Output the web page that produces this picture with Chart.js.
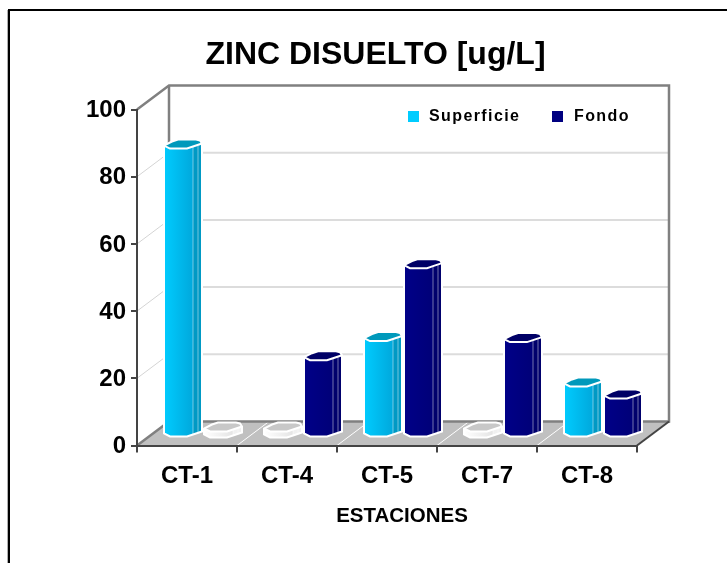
<!DOCTYPE html>
<html>
<head>
<meta charset="utf-8">
<title>Zinc disuelto</title>
<script src="https://cdn.jsdelivr.net/npm/chart.js@4/dist/chart.umd.min.js"></script>
<style>
  body { margin: 0; background: #fff; }
  canvas { display: block; }
</style>
</head>
<body>
<canvas id="grafico" width="727" height="563"></canvas>
<script>
const estaciones = ["CT-1", "CT-4", "CT-5", "CT-7", "CT-8"];
const superficie = [86, 0, 28.7, 0, 15.2];
const fondo = [0, 23, 50.4, 28.4, 11.6];
const tituloEjeX = "ESTACIONES";

const FUENTE = "'Liberation Sans', Arial, sans-serif";

// colores de cada cara: frente (izq, der), lado, tapa
const caras = {
  Superficie: { frente: ["#00ccff", "#00a8dc"], lado: "#0099c4", tapa: "#0099bb" },
  Fondo: { frente: ["#000088", "#000078"], lado: "#00006c", tapa: "#000066" },
  cero: { frente: ["#ffffff", "#e4e4e4"], lado: "#f0f0f0", tapa: "#c8c8c8" },
};

// profundidad de las paredes y desplazamiento de las barras dentro de ella
const prof = { dx: 32, dy: -24 };
const desp = { dx: -3, dy: -8 };

function poligono(ctx, puntos) {
  ctx.beginPath();
  puntos.forEach((p, i) => (i ? ctx.lineTo(p[0], p[1]) : ctx.moveTo(p[0], p[1])));
  ctx.closePath();
}

function prisma(ctx, barra, color) {
  const x0 = barra.x + desp.dx;
  const base = barra.base + desp.dy;
  // las barras en cero se ven como un disco plano
  const arriba = Math.min(barra.y + desp.dy, base - 6);
  const pie = (y) => [[x0, y - 3], [x0 + 6, y], [x0 + 23, y], [x0 + 29, y - 2], [x0 + 38, y - 5]];

  const abajo = pie(base);
  const alto = pie(arriba);
  const fondoTapa = [[x0 + 36, arriba - 8], [x0 + 32, arriba - 9], [x0 + 14, arriba - 9], [x0 + 8, arriba - 7]];

  const g = ctx.createLinearGradient(x0, 0, x0 + 29, 0);
  g.addColorStop(0, color.frente[0]);
  g.addColorStop(1, color.frente[1]);
  ctx.fillStyle = g;
  poligono(ctx, [alto[0], alto[1], alto[2], alto[3], abajo[3], abajo[2], abajo[1], abajo[0]]);
  ctx.fill();

  ctx.fillStyle = color.lado;
  poligono(ctx, [alto[3], alto[4], abajo[4], abajo[3]]);
  ctx.fill();

  ctx.fillStyle = color.tapa;
  poligono(ctx, [...alto, ...fondoTapa]);
  ctx.fill();

  // aristas verticales del lado
  ctx.strokeStyle = "rgba(255,255,255,0.45)";
  ctx.lineWidth = 1;
  ctx.beginPath();
  ctx.moveTo(alto[3][0], alto[3][1]);
  ctx.lineTo(abajo[3][0], abajo[3][1]);
  ctx.moveTo(x0 + 34, arriba - 3);
  ctx.lineTo(x0 + 34, base - 3);
  ctx.stroke();

  ctx.strokeStyle = "#ffffff";
  ctx.lineWidth = 2;
  poligono(ctx, [alto[0], ...abajo, alto[4], ...fondoTapa]);
  ctx.stroke();
  ctx.beginPath();
  alto.forEach((p, i) => (i ? ctx.lineTo(p[0], p[1]) : ctx.moveTo(p[0], p[1])));
  ctx.stroke();
}

const decorado3D = {
  id: "decorado3D",
  beforeDraw(chart) {
    const { ctx, chartArea: a, scales } = chart;
    const der = a.right, izq = a.left, inf = a.bottom, sup = a.top;
    const dx = prof.dx, dy = prof.dy;

    // el eje y es angosto para centrar el titulo; sin esto recorta sus etiquetas
    scales.y.left = 0;

    ctx.save();
    // marco
    ctx.fillStyle = "#b0b0b0";
    ctx.fillRect(7, 10, 1, chart.height - 10);
    ctx.fillStyle = "#000000";
    ctx.fillRect(8, 9, chart.width - 8, 2);
    ctx.fillRect(8, 9, 2, chart.height - 9);

    // lineas de pared
    scales.y.ticks.forEach((t) => {
      const y = scales.y.getPixelForValue(t.value);
      if (t.value === 0 || t.value === 100) return;
      ctx.strokeStyle = "#d4d4d4";
      ctx.lineWidth = 1;
      ctx.beginPath();
      ctx.moveTo(izq, y);
      ctx.lineTo(izq + dx, y + dy);
      ctx.stroke();
      ctx.strokeStyle = "#dcdcdc";
      ctx.lineWidth = 2;
      ctx.beginPath();
      ctx.moveTo(izq + dx, y + dy);
      ctx.lineTo(der + dx, y + dy);
      ctx.stroke();
    });

    // piso
    ctx.fillStyle = "#c0c0c0";
    poligono(ctx, [[izq, inf], [der, inf], [der + dx, inf + dy], [izq + dx, inf + dy]]);
    ctx.fill();
    ctx.strokeStyle = "#ffffff";
    ctx.lineWidth = 1;
    estaciones.forEach((e, i) => {
      if (i === 0) return;
      const x = (scales.x.getPixelForTick(i - 1) + scales.x.getPixelForTick(i)) / 2;
      ctx.beginPath();
      ctx.moveTo(x, inf);
      ctx.lineTo(x + dx, inf + dy);
      ctx.stroke();
    });

    // bordes de las paredes
    ctx.strokeStyle = "#808080";
    ctx.lineWidth = 2.5;
    ctx.beginPath();
    ctx.moveTo(izq, sup);
    ctx.lineTo(izq + dx, sup + dy);
    ctx.lineTo(der + dx, sup + dy);
    ctx.lineTo(der + dx, inf + dy);
    ctx.lineTo(izq + dx, inf + dy);
    ctx.lineTo(izq + dx, sup + dy);
    ctx.moveTo(izq + dx, inf + dy);
    ctx.lineTo(izq, inf);
    ctx.stroke();
    ctx.strokeStyle = "#444444";
    ctx.lineWidth = 2;
    ctx.beginPath();
    ctx.moveTo(der, inf);
    ctx.lineTo(der + dx, inf + dy);
    ctx.stroke();
    ctx.restore();
  },
  beforeDatasetDraw(chart, args) {
    // las barras se pintan como prismas a partir de los elementos de la libreria
    const { ctx } = chart;
    const nombre = chart.data.datasets[args.index].label;
    ctx.save();
    args.meta.data.forEach((barra) => {
      prisma(ctx, barra, barra.y >= barra.base - 0.5 ? caras.cero : caras[nombre]);
    });
    ctx.restore();
    return false;
  },
  afterDraw(chart) {
    const { ctx } = chart;
    ctx.save();
    ctx.fillStyle = "#000000";
    ctx.textBaseline = "middle";
    ctx.textAlign = "left";

    // leyenda
    const xs = [[408, 429], [552, 574]];
    ctx.font = "bold 16px " + FUENTE;
    ctx.letterSpacing = "1.4px";
    chart.data.datasets.forEach((d, i) => {
      ctx.fillStyle = d.backgroundColor;
      ctx.fillRect(xs[i][0], 111, 11, 11);
      ctx.fillStyle = "#000000";
      ctx.fillText(d.label, xs[i][1], 116.5);
    });

    // titulo del eje x
    ctx.letterSpacing = "0px";
    ctx.font = "bold 20.5px " + FUENTE;
    ctx.textAlign = "center";
    ctx.fillText(tituloEjeX, 402, 516);
    ctx.restore();
  },
};

new Chart(document.getElementById("grafico"), {
  type: "bar",
  data: {
    labels: estaciones,
    datasets: [
      { label: "Superficie", data: superficie, backgroundColor: "#00ccff" },
      { label: "Fondo", data: fondo, backgroundColor: "#000080" },
    ],
  },
  options: {
    responsive: false,
    animation: false,
    categoryPercentage: 0.8,
    barPercentage: 1,
    layout: { autoPadding: false, padding: { left: 114, right: 90, top: 0, bottom: 0 } },
    plugins: {
      legend: { display: false },
      tooltip: { enabled: false },
      title: {
        display: true,
        text: "ZINC DISUELTO [ug/L]",
        color: "#000000",
        font: { family: FUENTE, size: 32, weight: "bold" },
        padding: { top: 36, bottom: 35.1 },
      },
    },
    scales: {
      x: {
        afterFit(scale) { scale.height = 117.5; },
        grid: { offset: true, drawOnChartArea: false, tickLength: 7, color: "#444444", lineWidth: 2 },
        border: { color: "#444444", width: 2 },
        ticks: { color: "#000000", padding: 9, maxRotation: 0, font: { family: FUENTE, size: 24, weight: "bold" } },
      },
      y: {
        min: 0,
        max: 100,
        afterFit(scale) { scale.width = 23; },
        grid: { drawOnChartArea: false, tickLength: 6, color: "#444444", lineWidth: 2 },
        border: { color: "#444444", width: 2 },
        ticks: { stepSize: 20, color: "#000000", padding: 5, labelOffset: 1, font: { family: FUENTE, size: 24, weight: "bold" } },
      },
    },
  },
  plugins: [decorado3D],
});
</script>
</body>
</html>
